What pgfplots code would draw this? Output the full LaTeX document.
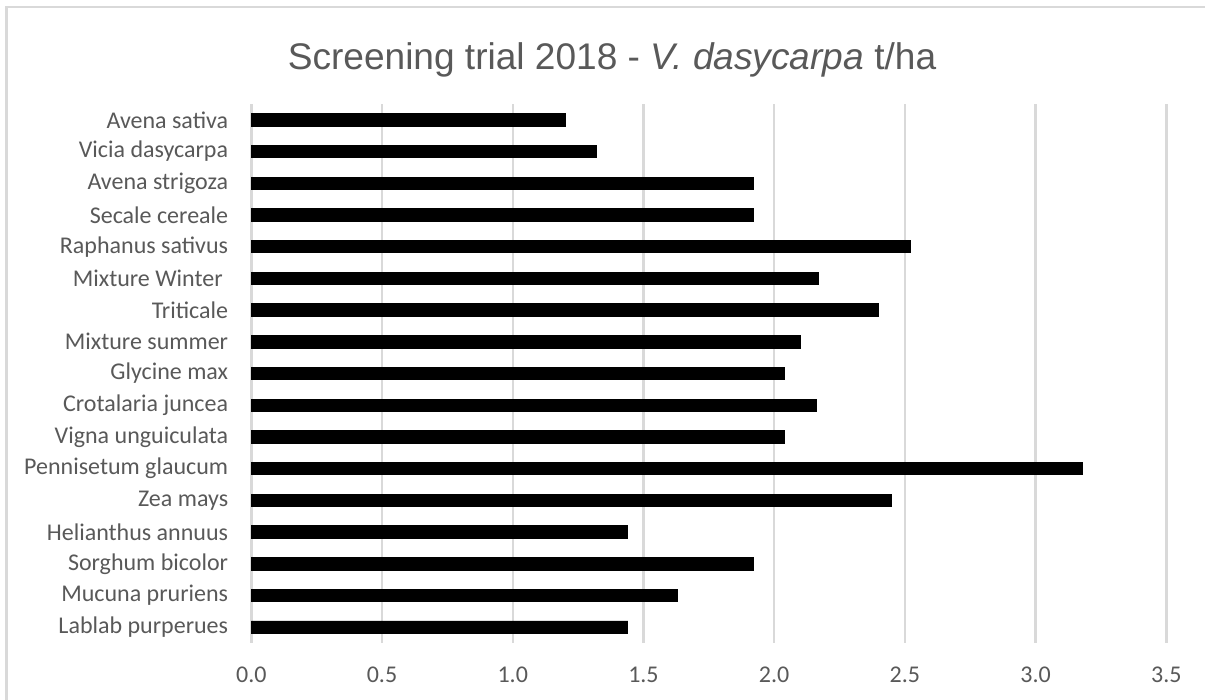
\documentclass[border=0pt]{standalone}
\usepackage{pgfplots}
\pgfplotsset{compat=1.18}
\usepackage{pgfplotstable}
\usepackage{fontspec}
\setmainfont{Carlito}
\newfontfamily\titlefont{Liberation Sans}
\definecolor{txtgray}{HTML}{595959}
\definecolor{gridgray}{HTML}{D9D9D9}

\pgfplotstableread{
y val
16 1.20
15 1.32
14 1.92
13 1.92
12 2.52
11 2.17
10 2.40
9 2.10
8 2.04
7 2.16
6 2.04
5 3.18
4 2.45
3 1.44
2 1.92
1 1.63
0 1.44
}\datatable

\begin{document}
\begin{tikzpicture}
\useasboundingbox (0,0) rectangle (451.875pt,262.5pt);
\fill[white] (0,0) rectangle (451.875pt,262.5pt);
\draw[gridgray, line width=0.9pt] (2.5pt,-5pt) -- (2.5pt,259.9pt) -- (460pt,259.9pt);
\node[anchor=base, text=txtgray, font=\titlefont\fontsize{13.9}{16}\selectfont, inner sep=0pt]
  at (229.5pt,236.5pt) {Screening trial 2018 - \textit{V. dasycarpa} t/ha};
\begin{axis}[
  at={(94.24pt,21.375pt)}, anchor=south west,
  width=343.125pt, height=202.125pt, scale only axis,
  xbar, bar shift=0pt, bar width=4.65pt,
  xmin=0, xmax=3.5, ymin=-0.5, ymax=16.5,
  xtick={0,0.5,...,3.5},
  ytick={0,...,16},
  yticklabels={Lablab purperues, Mucuna pruriens, Sorghum bicolor, Helianthus annuus, Zea mays, Pennisetum glaucum, Vigna unguiculata, Crotalaria juncea, Glycine max, Mixture summer, Triticale, {Mixture Winter\hspace*{2.03pt}}, Raphanus sativus, Secale cereale, Avena strigoza, Vicia dasycarpa, Avena sativa},
  axis lines*=left,
  x axis line style={draw=none},
  y axis line style={draw=gridgray, line width=0.9pt},
  xmajorgrids, major grid style={draw=gridgray, line width=0.9pt},
  major tick length=0pt,
  tick style={draw=none},
  /pgf/number format/assume math mode=true,
  xticklabel={\pgfmathprintnumber[fixed, fixed zerofill, precision=1]{\tick}},
  ticklabel style={font=\fontsize{9}{11}\selectfont, text=txtgray, inner sep=0pt},
  xticklabel style={anchor=base, yshift=-14.9pt},
  yticklabel style={anchor=east, xshift=-8.5pt},
  clip=false,
]
\addplot[fill=black, draw=black, line width=0.3pt] table[x=val, y=y] {\datatable};
\end{axis}
\end{tikzpicture}
\end{document}
